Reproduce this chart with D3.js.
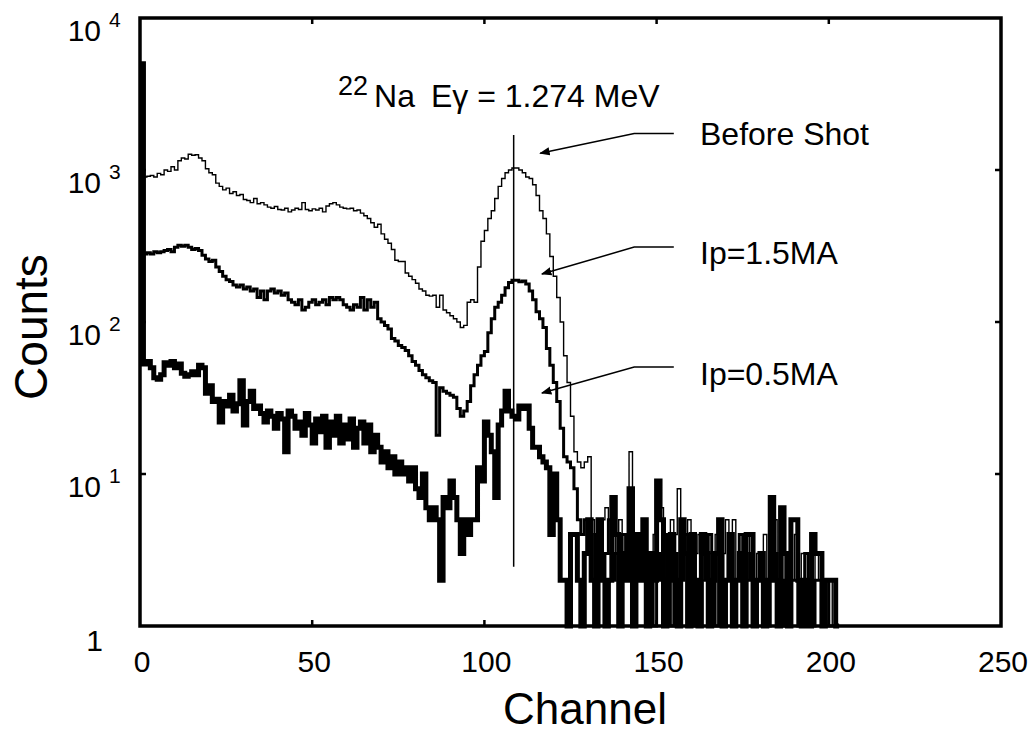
<!DOCTYPE html>
<html>
<head>
<meta charset="utf-8">
<script src="https://cdn.jsdelivr.net/npm/d3@7"></script>
<style>
  html, body { margin: 0; padding: 0; background: #fff; }
  svg { display: block; font-family: "Liberation Sans", Arial, Helvetica, sans-serif; }
</style>
</head>
<body>
<div id="app"></div>
<script>
// counts per channel (index = channel)
const beforeShot = [
  2800, 900, 910, 920, 900, 950, 930, 1000, 980, 1050, 1000, 1150, 1200, 1180, 1270, 1250, 1260,
  1200, 1150, 1020, 960, 930, 820, 780, 740, 760, 700, 720, 680, 690,
  640, 630, 610, 650, 600, 610, 590, 570, 560, 575, 550, 545, 560, 530,
  545, 560, 550, 610, 550, 540, 555, 545, 560, 530, 580, 600, 610, 590,
  570, 560, 555, 560, 540, 545, 520, 500, 480, 450, 420, 440,
  380, 350, 330, 300, 255, 250, 250, 210, 200, 190, 180, 165, 160, 150, 148,
  150, 125, 150, 120, 115, 110, 105, 100, 92, 95, 135, 140, 135,
  230, 340, 400, 480, 540, 650, 780, 880, 960, 1000, 1030, 1030, 1000, 960,
  900, 880, 800, 680, 540, 480, 380, 270, 200, 145, 100, 60, 40, 24, 14, 12, 11, 12, 13,
  5, 4, 5, 5, 6, 3, 4, 3, 5, 4, 3, 14, 4, 4, 3, 4, 2, 3, 4, 7, 6, 4, 3, 5, 4, 8, 5, 4, 5, 4,
  3, 4, 2, 4, 3, 2, 4, 2, 3, 5, 3, 5, 2, 3, 2, 4, 3, 2, 3, 2, 4, 2, 3, 5, 2, 3, 2, 3, 2, 4,
  2, 3, 2, 2, 3, 2, 3, 2, 2, 2, 1, 1
]
const ip15 = [
  1500, 280, 285, 280, 290, 285, 290, 295, 300, 290, 310, 320, 315, 320, 310, 300, 305, 295,
  275, 260, 250, 255, 230, 215, 200, 190, 185, 175, 170, 175, 165, 170, 160, 165, 145, 160, 140,
  160, 165, 155, 160, 150, 155, 140, 135, 130, 140, 120, 125, 135, 140, 130, 135, 140, 130,
  145, 140, 145, 140, 130, 125, 120, 130, 125, 145, 120, 140, 125, 135, 105, 100, 95, 90,
  78, 75, 70, 68, 65, 60, 55, 52, 48, 45, 43, 41, 40, 18, 37, 35, 34, 33, 32, 27, 24, 26, 30,
  38, 45, 52, 60, 64, 85, 105, 125, 135, 150, 168, 182, 188, 188, 184, 186, 178,
  160, 140, 117, 105, 92, 67, 52, 40, 30, 20, 13, 12, 11, 8,
  5, 4, 5, 3, 2, 4, 3, 2, 3, 5, 2, 3, 2, 4, 2, 3, 1, 2, 4, 2, 3, 2, 1, 3, 2, 4, 2, 1, 3, 2,
  2, 4, 2, 3, 1, 2, 3, 2, 4, 2, 1, 3, 2, 2, 3, 1, 2, 4, 2, 2, 3, 1, 2, 3, 2, 1, 2, 3, 2, 2,
  1, 3, 2, 2, 1, 2, 3, 2, 1, 2, 2, 1, 2, 1, 1, 1
]
const ip05 = [
  5000, 53, 55, 50, 43, 42, 45, 54, 52, 55, 50, 53, 46, 44, 45, 47, 45, 52, 50, 34, 38, 30,
  31, 22, 30, 28, 33, 26, 29, 41, 21, 30, 35, 27, 28, 25, 22, 26, 24, 20, 25, 23, 14,
  26, 24, 20, 22, 18, 25, 21, 16, 23, 19, 24, 15, 22, 18, 24, 16, 21, 17, 23, 15, 20, 22, 16, 21,
  14, 18, 15, 12, 14, 11, 13, 10, 12, 10, 11, 9, 11, 8, 7, 10, 6, 5, 6, 5, 2,
  7, 6, 9, 7, 5, 3, 5, 4, 5, 5, 11, 9, 22, 18, 14, 7, 21, 26, 35, 26, 24, 23, 28, 27, 28,
  20, 15, 15, 13, 12, 11, 4, 10, 5, 2, 2,
  1, 4, 4, 2, 1, 3, 5, 2, 1, 5, 2, 1, 2, 7, 4, 1, 3, 2, 8, 1, 4, 2, 5, 1, 3, 2, 9, 5, 1, 2,
  4, 2, 1, 5, 3, 1, 4, 2, 1, 4, 3, 1, 2, 3, 5, 1, 2, 4, 1, 2, 3, 1, 4, 4, 1, 2, 3, 1, 2, 7,
  2, 1, 6, 3, 1, 5, 5, 2, 1, 2, 1, 4, 3, 3, 1, 2, 2, 2, 1
]

const series = [
  { name: 'Before Shot', values: beforeShot, width: 1.4 },
  { name: 'Ip=1.5MA', values: ip15, width: 3 },
  { name: 'Ip=0.5MA', values: ip05, width: 5 }
]

const xTicks = [0, 50, 100, 150, 200, 250]
const yTicks = [1, 10, 100, 1000, 10000]

// annotation anchors in data units (channel, counts)
const peakChannel = 108.5
const peakLineCounts = [2.45, 1700]
const labels = [
  { text: 'Before Shot', at: [162.6, 1460], elbow: [[155, 1740], [143.5, 1740]], tip: [116.2, 1290] },
  { text: 'Ip=1.5MA', at: [162.6, 241], elbow: [[155, 311], [143.5, 311]], tip: [116.7, 207] },
  { text: 'Ip=0.5MA', at: [162.6, 38.5], elbow: [[155, 50.6], [143.5, 50.6]], tip: [116.7, 34.1] }
]

const W = 1035, H = 733
const mLeft = 140, mRight = 1001, mTop = 18, mBottom = 626

const x = d3.scaleLinear().domain([0, 250]).range([mLeft, mRight])
const y = d3.scaleLog().domain([1, 1e4]).range([mBottom, mTop]).clamp(true)

const svg = d3.select('#app').append('svg')
  .attr('width', W).attr('height', H)

// histograms, stepped per channel
const line = d3.line()
  .x(d => x(d[0]))
  .y(d => y(Math.max(d[1], 1)))
  .curve(d3.curveStepAfter)

const plot = svg.append('g')
series.forEach(s => {
  const pts = s.values.map((v, i) => [i, v])
  pts.push([s.values.length, s.values[s.values.length - 1]])
  pts.push([s.values.length, 1])
  plot.append('path')
    .attr('d', line(pts))
    .attr('fill', 'none')
    .attr('stroke', '#000')
    .attr('stroke-width', s.width)
    .attr('stroke-linejoin', 'miter')
})

// peak marker
plot.append('line')
  .attr('x1', x(peakChannel)).attr('x2', x(peakChannel))
  .attr('y1', y(peakLineCounts[0])).attr('y2', y(peakLineCounts[1]))
  .attr('stroke', '#000').attr('stroke-width', 1.5)

// frame
svg.append('rect')
  .attr('x', mLeft).attr('y', mTop)
  .attr('width', mRight - mLeft).attr('height', mBottom - mTop)
  .attr('fill', 'none').attr('stroke', '#000').attr('stroke-width', 3.5)

// ticks (inward)
const tk = svg.append('g').attr('stroke', '#000').attr('stroke-width', 2.5)
xTicks.slice(1, -1).forEach(t => {
  tk.append('line').attr('x1', x(t)).attr('x2', x(t)).attr('y1', mBottom).attr('y2', mBottom - 6)
  tk.append('line').attr('x1', x(t)).attr('x2', x(t)).attr('y1', mTop).attr('y2', mTop + 6)
})
yTicks.slice(1, -1).forEach(t => {
  tk.append('line').attr('x1', mLeft).attr('x2', mLeft + 6).attr('y1', y(t)).attr('y2', y(t))
  tk.append('line').attr('x1', mRight).attr('x2', mRight - 6).attr('y1', y(t)).attr('y2', y(t))
})

// x tick labels
svg.append('g').selectAll('text').data(xTicks).join('text')
  .attr('x', d => x(d) + 2)
  .attr('y', mBottom + 46)
  .attr('text-anchor', 'middle')
  .attr('font-size', 30)
  .text(d => d)

// y tick labels, 10 with superscript exponent
const yl = svg.append('g').selectAll('g').data(yTicks).join('g')
yl.filter(d => d === 1).append('text')
  .attr('x', 103).attr('y', d => y(d) + 25)
  .attr('text-anchor', 'end').attr('font-size', 30).text('1')
yl.filter(d => d > 1).append('text')
  .attr('x', 101).attr('y', d => y(d) + 23)
  .attr('text-anchor', 'end').attr('font-size', 30).text('10')
yl.filter(d => d > 1).append('text')
  .attr('x', 109).attr('y', d => y(d) + 9)
  .attr('font-size', 21).text(d => Math.round(Math.log10(d)))

// axis titles
svg.append('text')
  .attr('x', 585).attr('y', 724)
  .attr('text-anchor', 'middle').attr('font-size', 44)
  .text('Channel')
svg.append('text')
  .attr('transform', 'translate(47,327) rotate(-90)')
  .attr('text-anchor', 'middle').attr('font-size', 46)
  .text('Counts')

// title annotation
const title = svg.append('text').attr('font-size', 32)
  .attr('x', x(57.5)).attr('y', y(2600))
title.append('tspan').attr('font-size', 27).attr('dy', -12).text('22')
title.append('tspan').attr('dy', 12).attr('dx', 6).text('Na')
title.append('tspan').attr('dx', 16).text('E\u03b3 = 1.274 MeV')

// series labels with arrows
svg.append('defs').append('marker')
  .attr('id', 'head').attr('viewBox', '0 0 10 10')
  .attr('refX', 9).attr('refY', 5)
  .attr('markerWidth', 7).attr('markerHeight', 7)
  .attr('orient', 'auto')
  .append('path').attr('d', 'M0,1 L10,5 L0,9 Z').attr('fill', '#000')

labels.forEach(l => {
  svg.append('text')
    .attr('x', x(l.at[0])).attr('y', y(l.at[1]))
    .attr('font-size', 32).text(l.text)
  const pts = [...l.elbow, l.tip].map(p => [x(p[0]), y(p[1])])
  svg.append('path')
    .attr('d', d3.line()(pts))
    .attr('fill', 'none').attr('stroke', '#000').attr('stroke-width', 1.5)
    .attr('marker-end', 'url(#head)')
})
</script>
</body>
</html>
